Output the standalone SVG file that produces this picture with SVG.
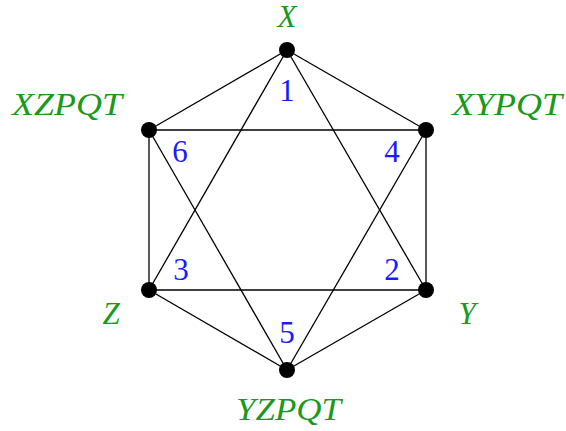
<svg xmlns="http://www.w3.org/2000/svg" width="566" height="431" viewBox="0 0 566 431">
<style>
.e{stroke:#000;stroke-width:1.3;fill:none}
.d{fill:#000}
.l{font-family:"Liberation Serif",serif;font-style:italic;font-size:31px;fill:#1a9a1a}
.n{font-family:"Liberation Serif",serif;font-size:31px;fill:#1a1aff;text-anchor:middle}
</style>
<rect width="566" height="431" fill="#fff"/>
<g id="connectors">
<line class="e" x1="287" y1="50" x2="426" y2="130"/>
<line class="e" x1="426" y1="130" x2="426" y2="290"/>
<line class="e" x1="426" y1="290" x2="287" y2="370"/>
<line class="e" x1="287" y1="370" x2="149" y2="290"/>
<line class="e" x1="149" y1="290" x2="149" y2="130"/>
<line class="e" x1="149" y1="130" x2="287" y2="50"/>
<line class="e" x1="287" y1="50" x2="149" y2="290"/>
<line class="e" x1="287" y1="50" x2="426" y2="290"/>
<line class="e" x1="149" y1="290" x2="426" y2="290"/>
<line class="e" x1="149" y1="130" x2="426" y2="130"/>
<line class="e" x1="149" y1="130" x2="287" y2="370"/>
<line class="e" x1="426" y1="130" x2="287" y2="370"/>
</g>
<g id="X"><circle class="d" cx="287" cy="50" r="8"/><text class="l" x="287" y="27" text-anchor="middle">X</text></g>
<g id="XYPQT"><circle class="d" cx="426" cy="130" r="8"/><text class="l" x="452" y="115" textLength="110" lengthAdjust="spacingAndGlyphs">XYPQT</text></g>
<g id="Y"><circle class="d" cx="426" cy="290" r="8"/><text class="l" x="467" y="324" text-anchor="middle">Y</text></g>
<g id="YZPQT"><circle class="d" cx="287" cy="370" r="8"/><text class="l" x="236" y="420" textLength="105" lengthAdjust="spacingAndGlyphs">YZPQT</text></g>
<g id="Z"><circle class="d" cx="149" cy="290" r="8"/><text class="l" x="111" y="324" text-anchor="middle">Z</text></g>
<g id="XZPQT"><circle class="d" cx="149" cy="130" r="8"/><text class="l" x="12" y="115" textLength="110" lengthAdjust="spacingAndGlyphs">XZPQT</text></g>
<g id="labels">
<text class="n" x="287" y="101">1</text>
<text class="n" x="392" y="280">2</text>
<text class="n" x="181" y="280">3</text>
<text class="n" x="392" y="162">4</text>
<text class="n" x="287" y="343">5</text>
<text class="n" x="180" y="162">6</text>
</g>
</svg>
